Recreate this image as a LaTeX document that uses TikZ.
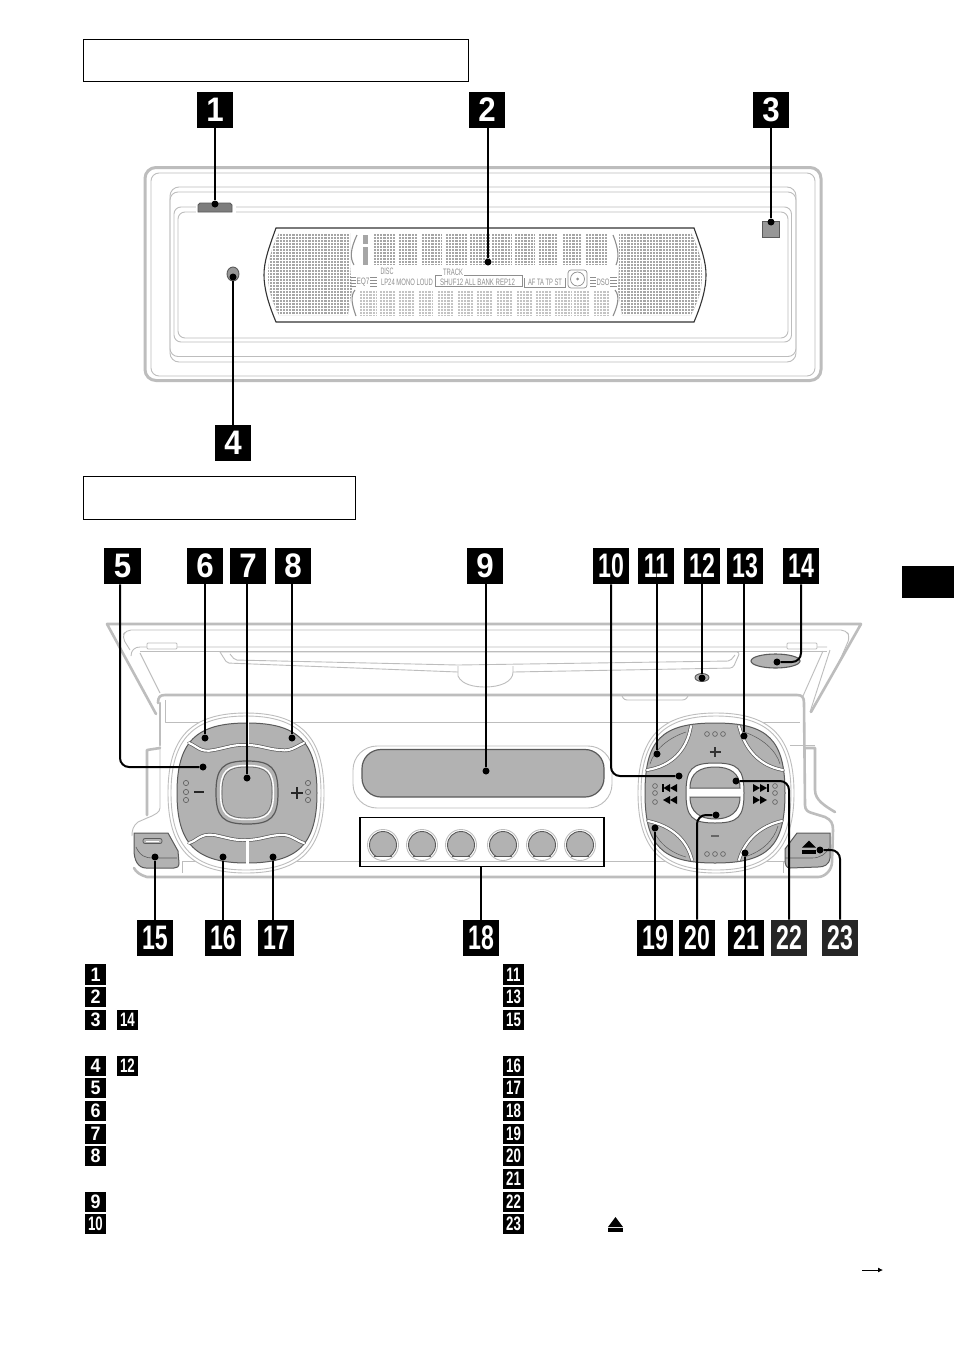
\documentclass[tikz,border=0pt]{standalone}
\usepackage{fontspec}
\usepackage{graphicx}
\setmainfont{Liberation Sans}
\usetikzlibrary{arrows.meta,shapes.geometric}
\definecolor{devfill}{HTML}{B2B2B2}
\definecolor{devline}{HTML}{BDBDBD}
\definecolor{devdark}{HTML}{5A5A5A}
\definecolor{lcdfill}{HTML}{A6A6A6}
\definecolor{lcdlow}{HTML}{C4C4C4}
\definecolor{lcdtext}{HTML}{8E8E8E}
\newcommand{\one}[1]{\scalebox{.92}[1]{#1}}
\newcommand{\two}[1]{\scalebox{.68}[1]{#1}}
\tikzset{
  badge/.style={fill=black,text=white,minimum size=36.5pt,inner sep=0pt,font=\bfseries\fontsize{34}{34}\selectfont},
  smallbadge/.style={fill=black,text=white,minimum size=20.5pt,inner sep=0pt,font=\bfseries\fontsize{19.5}{19.5}\selectfont},
  titlebox/.style={draw=black,line width=.9pt,inner sep=0pt},
  lead/.style={draw=black,line width=2pt,rounded corners=9pt},
  dotn/.style={circle,fill=black,inner sep=0pt,minimum size=7pt},
  devthick/.style={draw=devline,line width=2.6pt,line join=round,line cap=round},
  devthin/.style={draw=devline,line width=.9pt,line join=round},
  btn/.style={fill=devfill,draw=devdark,line width=1pt},
  cut/.style={draw=white,line width=2.2pt,line cap=round},
  cutedge/.style={draw=devdark,line width=3.6pt,line cap=round},
  lcdlab/.style={inner sep=0pt,text=lcdtext,font=\fontsize{7}{7}\selectfont},
  lcdline/.style={draw=lcdtext,line width=.7pt},
  smallring/.style={draw=devdark,line width=.6pt,fill=devfill}
}
\newcommand{\sqshape}[6]{%
  \pgfmathsetmacro\sqL{#1-#3}\pgfmathsetmacro\sqR{#1+#3}%
  \pgfmathsetmacro\sqT{#2-#4}\pgfmathsetmacro\sqB{#2+#4}%
  \pgfmathsetmacro\sqXl{#1-#5*#3}\pgfmathsetmacro\sqXr{#1+#5*#3}%
  \pgfmathsetmacro\sqYt{#2-#5*#4}\pgfmathsetmacro\sqYb{#2+#5*#4}%
  \path[#6] (#1,\sqT) .. controls (\sqXr,\sqT) and (\sqR,\sqYt) .. (\sqR,#2)
    .. controls (\sqR,\sqYb) and (\sqXr,\sqB) .. (#1,\sqB)
    .. controls (\sqXl,\sqB) and (\sqL,\sqYb) .. (\sqL,#2)
    .. controls (\sqL,\sqYt) and (\sqXl,\sqT) .. (#1,\sqT) -- cycle;}
\newcommand{\dotgrid}[5]{%
  \fill[#5] (#1,#2) rectangle (#3,#4);
  \pgfmathsetmacro\gridXn{#1+3.2}\pgfmathsetmacro\gridYn{#2+3}%
  \foreach \gi in {#1,\gridXn,...,#3} {\draw[white,line width=.6pt] (\gi,#2) -- (\gi,#4);}
  \foreach \gj in {#2,\gridYn,...,#4} {\draw[white,line width=.6pt] (#1,\gj) -- (#3,\gj);}
}
\newcommand{\fitw}[2]{\resizebox{#1pt}{6.5pt}{#2}}
\begin{document}
\begin{tikzpicture}[x=1pt,y=-1pt]
\useasboundingbox (0,0) rectangle (954,1352);
\fill[white] (0,0) rectangle (954,1352);

% title boxes and page tab
\node[titlebox,minimum width=385pt,minimum height=42pt] (t1) at (275.5,60) {};
\node[titlebox,minimum width=272pt,minimum height=43pt] (t2) at (219,497.5) {};
\node[fill=black,minimum width=52pt,minimum height=32pt,inner sep=0pt] (pagetab) at (928,582) {};

% ===== front panel =====
\draw[draw=devline,line width=3pt,rounded corners=11pt] (145,167.5) rectangle (821,380.5);
\draw[devthin,rounded corners=8pt] (151,173) rectangle (815,376);
\draw[devthin,rounded corners=9pt] (170,187) rectangle (796,362);
\draw[devthin,rounded corners=8pt] (170,192) rectangle (796,356.5);
\draw[devthin,rounded corners=7pt] (174,207) rectangle (791.5,342);
\draw[devthin,rounded corners=7pt] (178,212) rectangle (788,338);
\fill[white] (196,200) rectangle (236,214);
\draw[devdark,line width=.8pt,fill=devfill!70!black] (198,212) -- (198,205) -- (200,203) -- (230,203) -- (232,205) -- (232,212) -- cycle;
\node[draw=devdark,fill=devfill!85!black,line width=.9pt,minimum width=17pt,minimum height=16pt,inner sep=0pt] (sq3) at (771,229) {};
\node[ellipse,draw=devdark,fill=devfill!85!black,line width=.9pt,minimum width=12pt,minimum height=14pt,inner sep=0pt] (led4) at (233,274) {};

% display
\path[fill=white,draw=black!80,line width=1.1pt] (276,228) -- (694,228) .. controls (702,250) and (706,262) .. (706,275) .. controls (706,288) and (702,303) .. (694,322) -- (276,322) .. controls (268,303) and (264,288) .. (264,275) .. controls (264,262) and (268,250) .. (276,228) -- cycle;
\begin{scope}
\clip (279,233) -- (350,233) -- (350,265) -- (352,290) -- (348,315) -- (279,315) .. controls (271,300) and (268,288) .. (268,275) .. controls (268,262) and (271,248) .. (279,233) -- cycle;
\dotgrid{266}{233}{353}{316}{lcdfill}
\end{scope}
\begin{scope}
\clip (619,233) -- (691,233) .. controls (699,248) and (702,262) .. (702,275) .. controls (702,288) and (699,300) .. (691,315) -- (622,315) -- (618,290) -- (619,265) -- cycle;
\dotgrid{617}{233}{704}{316}{lcdfill}
\end{scope}
\foreach \a/\b in {373/395,398/418,421/442,445/467,469/490,491/512,514/535,538/558,562/582,585/607} {\dotgrid{\a}{233}{\b}{265}{lcdfill}}
\foreach \a/\b in {359/377,379/395,398/414,418/433,437/453,457/473,476/493,496/512,516/532,535/552,554/572,573/590,593/610} {\dotgrid{\a}{290}{\b}{316}{lcdlow}}
\fill[lcdfill] (363,235) rectangle (368,244);
\fill[lcdfill] (363,247) rectangle (368,265);
\draw[lcdtext,line width=1.1pt] (357,235) .. controls (350,250) and (350,258) .. (354,265);
\draw[lcdtext,line width=1.1pt] (355,290) .. controls (350,296) and (352,305) .. (356,316);
\draw[lcdtext,line width=1.1pt] (613,235) .. controls (619,250) and (619,258) .. (616,265);
\draw[lcdtext,line width=1.1pt] (615,290) .. controls (620,296) and (618,305) .. (613,316);
\node[lcdlab] (lcdeq) at (363,282) {\fitw{13}{EQ7}};
\node[lcdlab] (lcddisc) at (387,271.5) {\fitw{13}{DISC}};
\node[lcdlab] (lcdlp) at (407,282) {\fitw{52}{LP24 MONO LOUD}};
\node[lcdlab] (lcdtrack) at (453,272) {\fitw{20}{TRACK}};
\node[lcdlab] (lcdshuf) at (477.5,282) {\fitw{75}{SHUF12 ALL BANK REP12}};
\node[lcdlab] (lcdaf) at (545,282) {\fitw{34}{AF TA TP ST}};
\node[lcdlab] (lcddso) at (603,282) {\fitw{13}{DSO}};
\draw[lcdline] (442,275.5) -- (435,275.5) -- (435,286.5) -- (522,286.5) -- (522,275.5) -- (464,275.5);
\draw[lcdline] (524,278) -- (524,287) -- (565,287) -- (565,278);
\draw[lcdline,rounded corners=3pt] (568,270) rectangle (587,288);
\node[circle,draw=lcdtext,line width=.7pt,minimum size=14pt,inner sep=0pt] (lcddisk) at (577.5,279) {};
\node[circle,fill=lcdtext,minimum size=3pt,inner sep=0pt] (lcdhub) at (577.5,279) {};
\foreach \yy in {277,280,283,286} {
  \draw[lcdtext,line width=.6pt] (350,\yy) -- (356,\yy);
  \draw[lcdtext,line width=.6pt] (370,\yy) -- (377,\yy);
  \draw[lcdtext,line width=.6pt] (590,\yy) -- (596,\yy);
  \draw[lcdtext,line width=.6pt] (610,\yy) -- (617,\yy);
}

% ===== open unit =====
\draw[devthick] (156,714) -- (107,624) -- (861,624) -- (811,712);
\draw[devthin,rounded corners=5pt] (130,650) -- (122,637) -- (126,630) -- (846,630) -- (850,637) -- (840,660);
\draw[devthin] (140,653) -- (160,693);
\draw[devthin] (131,656) .. controls (131,650) and (135,647) .. (140,647) -- (827,647);
\draw[devthin] (140,651) -- (827,651);
\draw[devthin] (830,650) -- (810,712);
\draw[devthin] (823,651) -- (803,696);
\node[devthin,draw,fill=white,minimum width=30pt,minimum height=6pt,inner sep=0pt,rounded corners=1pt] (tabl) at (162,646) {};
\node[devthin,draw,fill=white,minimum width=30pt,minimum height=6pt,inner sep=0pt,rounded corners=1pt] (tabr) at (802,646) {};
% disc slot
\draw[devthin,rounded corners=3pt] (220,652) -- (740,652) -- (733,668) -- (513,672);
\draw[devthin,rounded corners=2pt] (230,654) -- (235,660) -- (458,665) -- (730,661) -- (735,655);
\draw[devthin,rounded corners=2pt] (220,652) -- (227,663) -- (458,672);
\draw[devthin] (458,666) -- (458,676) .. controls (462,685) and (475,687) .. (485,687) .. controls (500,687) and (513,682) .. (513,672) -- (513,666);
% body outline
\draw[devthick] (158,703) .. controls (158,697) and (160,695) .. (165,695) -- (797,695) .. controls (802,695) and (804,697) .. (804,703) -- (805,805) .. controls (805,810) and (808,812) .. (812,813) -- (825,817) .. controls (831,820) and (833,823) .. (833,830) -- (832,862) .. controls (832,870) and (825,877) .. (818,877) -- (147,877) .. controls (140,875) and (136,872) .. (134,868);
\draw[devthick] (160,703) -- (160,745);
\draw[devthick] (147,815) -- (147,750) -- (160,748);
\draw[devthick] (805,748) -- (815,748) -- (815,790) .. controls (815,800) and (825,806) .. (835,812);
\draw[devthin] (160,745) -- (160,808) .. controls (160,812) and (155,815) .. (147,818) -- (138,822) .. controls (133,826) and (132,830) .. (132,836);
\draw[devthin] (165,700) -- (165,722) -- (800,722);
\draw[devthin] (182,861) -- (785,861);
\draw[devthin] (182,861) -- (182,873);
\draw[devthin] (783,861) -- (783,873);
\draw[devthin] (622,696) .. controls (624,700) and (625,700) .. (630,700) -- (680,700) .. controls (684,700) and (686,700) .. (688,696);
\draw[devthin] (815,745) -- (790,745);

% left cluster
\sqshape{246}{793}{78}{80}{.70}{draw=devline,line width=.9pt,fill=white}
\sqshape{246}{793}{75}{77}{.70}{draw=devline,line width=.9pt,fill=white}
\sqshape{247}{793}{70}{70}{.73}{btn}
\draw[cutedge] (189,743) .. controls (197,746) and (200,753) .. (214,750) .. controls (225,748) and (235,744) .. (247,745) .. controls (260,745) and (270,750) .. (281,750) .. controls (290,752) and (297,746) .. (304,743);
\draw[cut] (189,743) .. controls (197,746) and (200,753) .. (214,750) .. controls (225,748) and (235,744) .. (247,745) .. controls (260,745) and (270,750) .. (281,750) .. controls (290,752) and (297,746) .. (304,743);
\draw[cutedge] (189,843) .. controls (197,841) and (200,833) .. (214,835) .. controls (225,837) and (235,841) .. (247,840) .. controls (260,840) and (270,835) .. (281,835) .. controls (290,834) and (297,841) .. (304,843);
\draw[cut] (189,843) .. controls (197,841) and (200,833) .. (214,835) .. controls (225,837) and (235,841) .. (247,840) .. controls (260,840) and (270,835) .. (281,835) .. controls (290,834) and (297,841) .. (304,843);
\draw[white,line width=2.2pt] (247.5,722) -- (247.5,745);
\draw[white,line width=2.2pt] (247.5,840) -- (247.5,865);
\sqshape{247}{792.5}{31}{31.5}{.78}{btn,line width=1.2pt}
\sqshape{247}{792.5}{26.5}{27}{.78}{draw=white,line width=1.4pt}
\sqshape{247}{792.5}{25}{25.5}{.78}{draw=devdark,line width=.5pt}
\foreach \yy in {783,792,800} {
  \draw[smallring] (186,\yy) circle[radius=2.6];
  \draw[smallring] (308,\yy) circle[radius=2.6];
}
\draw[black!85,line width=2.8pt] (194,792) -- (204,792);
\draw[black!85,line width=2.8pt] (291,793) -- (303,793) (297,787) -- (297,799);

% centre display
\draw[devthin,rounded corners=24pt] (353,746) rectangle (612,808);
\draw[btn,line width=1.2pt,rounded corners=19pt] (362,749.5) rectangle (604,797);

% preset buttons
\foreach \cx in {383,422,461,503,542,580} {
  \draw[devthin] (\cx,845) circle[radius=15.5];
  \begin{scope}
  \clip (\cx-16,828) rectangle (\cx+16,856);
  \draw[btn,line width=.9pt] (\cx,845) circle[radius=13.5];
  \end{scope}
  \draw[devdark,line width=.9pt] (\cx-9,856) -- (\cx+9,856);
}
\node[draw=black,line width=1.8pt,minimum width=244pt,minimum height=49pt,inner sep=0pt] (box18) at (482,842) {};

% button 15
\draw[btn] (134,833) -- (168,833) -- (178,851) -- (179,863) .. controls (179,867) and (177,868) .. (174,868) -- (146,868) .. controls (138,868) and (134,860) .. (134,850) -- cycle;
\draw[devdark,line width=.6pt] (136,847) .. controls (140,856) and (146,858) .. (152,858) -- (177,858);
\draw[devdark,line width=.8pt,rounded corners=2pt] (143,838.5) rectangle (162,843.5);
\draw[white,line width=1pt] (146,841) -- (159,841);

% button 14 and aux 12
\node[ellipse,btn,line width=1.1pt,minimum width=49pt,minimum height=14pt,inner sep=0pt] (btn14) at (775.5,661) {};
\node[ellipse,draw=devdark,line width=.9pt,fill=devfill,minimum width=14pt,minimum height=8pt,inner sep=0pt] (aux12) at (702,677.5) {};

% right cluster
\sqshape{716}{793}{78}{80}{.70}{draw=devline,line width=.9pt,fill=white}
\sqshape{716}{793}{75}{77}{.70}{draw=devline,line width=.9pt,fill=white}
\sqshape{715}{793}{70}{70}{.76}{btn}
\draw[cutedge] (691,726) .. controls (687,750) and (672,766) .. (647,770);
\draw[cut] (691,726) .. controls (687,750) and (672,766) .. (647,770);
\draw[cutedge] (739,726) .. controls (745,750) and (760,766) .. (783,770);
\draw[cut] (739,726) .. controls (745,750) and (760,766) .. (783,770);
\draw[cutedge] (648,821) .. controls (672,826) and (687,840) .. (692,860);
\draw[cut] (648,821) .. controls (672,826) and (687,840) .. (692,860);
\draw[cutedge] (782,821) .. controls (760,826) and (745,840) .. (739,860);
\draw[cut] (782,821) .. controls (760,826) and (745,840) .. (739,860);
\draw[devdark,line width=.5pt] (686,732) .. controls (668,738) and (654,750) .. (650,764);
\draw[devdark,line width=.5pt] (744,732) .. controls (762,738) and (776,750) .. (780,764);
\draw[devdark,line width=.5pt] (652,826) .. controls (656,840) and (668,852) .. (686,857);
\draw[devdark,line width=.5pt] (778,826) .. controls (774,840) and (762,852) .. (744,857);
\sqshape{715}{793}{29}{30}{.8}{fill=white,draw=devdark,line width=1pt}
\path[btn] (690,788) .. controls (690,773) and (700,767) .. (715,767) .. controls (730,767) and (740,773) .. (740,788) -- cycle;
\path[btn] (690,797) .. controls (690,812) and (700,819) .. (715,819) .. controls (730,819) and (740,812) .. (740,797) -- cycle;
\foreach \xx in {707,715,723} {
  \draw[smallring] (\xx,734) circle[radius=2.4];
  \draw[smallring] (\xx,854) circle[radius=2.4];
}
\foreach \yy in {786,793,802} {
  \draw[smallring] (655,\yy) circle[radius=2.4];
  \draw[smallring] (775,\yy) circle[radius=2.4];
}
\draw[black!80,line width=2pt] (709.5,752) -- (720.5,752) (715,747) -- (715,757);
\draw[black!60,line width=1.4pt] (711,836) -- (719,836);
% transport symbols
\fill[black] (662,784) rectangle (663.5,792);
\fill[black] (663.5,788) -- (670,784) -- (670,792) -- cycle;
\fill[black] (670,788) -- (677,784) -- (677,792) -- cycle;
\fill[black] (663,800) -- (670,796) -- (670,804) -- cycle;
\fill[black] (670,800) -- (677,796) -- (677,804) -- cycle;
\fill[black] (753,784) -- (760,788) -- (753,792) -- cycle;
\fill[black] (760,784) -- (767,788) -- (760,792) -- cycle;
\fill[black] (767,784) rectangle (768.5,792);
\fill[black] (753,796) -- (760,800) -- (753,804) -- cycle;
\fill[black] (760,796) -- (767,800) -- (760,804) -- cycle;

% eject button
\draw[btn] (797,833) -- (830,833) -- (830,858) .. controls (829,865) and (824,867) .. (818,867) -- (790,868) .. controls (786,868) and (785,864) .. (785,860) -- (785,849) -- cycle;
\draw[devdark,line width=.6pt] (785,858) -- (812,858) .. controls (820,858) and (826,854) .. (829,848);
\fill[black] (802,847.5) -- (809,840.5) -- (816,847.5) -- cycle;
\fill[black] (802,849.5) rectangle (816,853.5);

% ===== end points =====
\node[dotn] (d1) at (215,204) {};
\node[dotn] (d2) at (488,262) {};
\node[dotn] (d3) at (771,222) {};
\node[dotn] (d4) at (233,277) {};
\node[dotn] (d5) at (203,767) {};
\node[dotn] (d6) at (205,738) {};
\node[dotn] (d7) at (247,778) {};
\node[dotn] (d8) at (292,738) {};
\node[dotn] (d9) at (486,771) {};
\node[dotn] (d10) at (679,776) {};
\node[dotn] (d11) at (657,754) {};
\node[dotn] (d12) at (702,678) {};
\node[dotn] (d13) at (744,736) {};
\node[dotn] (d14) at (777,662) {};
\node[dotn] (d15) at (155,857) {};
\node[dotn] (d16) at (223,857) {};
\node[dotn] (d17) at (273,857) {};
\node[dotn] (d19) at (655,828) {};
\node[dotn] (d20) at (716,815) {};
\node[dotn] (d21) at (745,853) {};
\node[dotn] (d22) at (736,781) {};
\node[dotn] (d23) at (820,850) {};
\coordinate (c5) at (120,600);

% ===== big badges =====
\node[badge] (b1) at (215,110) {\one{1}};
\node[badge] (b2) at (487,110) {\one{2}};
\node[badge] (b3) at (771,110) {\one{3}};
\node[badge] (b4) at (233,443) {\one{4}};
\node[badge] (b5) at (122.5,566) {\one{5}};
\node[badge] (b6) at (205,566) {\one{6}};
\node[badge] (b7) at (248,566) {\one{7}};
\node[badge] (b8) at (293,566) {\one{8}};
\node[badge] (b9) at (485,566) {\one{9}};
\node[badge] (b10) at (611,566) {\two{10}};
\node[badge] (b11) at (656,566) {\two{11}};
\node[badge] (b12) at (702,566) {\two{12}};
\node[badge] (b13) at (745,566) {\two{13}};
\node[badge] (b14) at (801,566) {\two{14}};
\node[badge] (b15) at (155,938) {\two{15}};
\node[badge] (b16) at (223,938) {\two{16}};
\node[badge] (b17) at (276,938) {\two{17}};
\node[badge] (b18) at (481,938) {\two{18}};
\node[badge] (b19) at (655,938) {\two{19}};
\node[badge] (b20) at (697,938) {\two{20}};
\node[badge] (b21) at (746,938) {\two{21}};
\node[badge,fill=black!85] (b22) at (789,938) {\two{22}};
\node[badge,fill=black!85] (b23) at (840,938) {\two{23}};

% ===== connectors =====
\draw[lead] (b1.south -| d1) -- (d1);
\draw[lead] (b2.south -| d2) -- (d2);
\draw[lead] (b3.south -| d3) -- (d3);
\draw[lead] (b4.north -| d4) -- (d4);
\draw[lead] (b5.south -| c5) -- (c5 |- d5) -- (d5);
\draw[lead] (b6.south -| d6) -- (d6);
\draw[lead] (b7.south -| d7) -- (d7);
\draw[lead] (b8.south -| d8) -- (d8);
\draw[lead] (b9.south -| d9) -- (d9);
\draw[lead] (b10.south) -- (b10.south |- d10) -- (d10);
\draw[lead] (b11.south -| d11) -- (d11);
\draw[lead] (b12.south -| d12) -- (d12);
\draw[lead] (b13.south -| d13) -- (d13);
\draw[lead] (b14.south) -- (b14.south |- d14) -- (d14);
\draw[lead] (b15.north -| d15) -- (d15);
\draw[lead] (b16.north -| d16) -- (d16);
\draw[lead] (b17.north -| d17) -- (d17);
\draw[lead] (b18.north) -- (b18.north |- box18.south);
\draw[lead] (b19.north -| d19) -- (d19);
\draw[lead] (b20.north) -- (b20.north |- d20) -- (d20);
\draw[lead] (b21.north -| d21) -- (d21);
\draw[lead] (b22.north) -- (b22.north |- d22) -- (d22);
\draw[lead] (b23.north) -- (b23.north |- d23) -- (d23);

% ===== legend badges =====
\foreach \nm/\lab/\yy in {l1/1/974.5,l2/2/997,l3/3/1020,l4/4/1066,l5/5/1088,l6/6/1111,l7/7/1134,l8/8/1156,l9/9/1202}
  {\node[smallbadge] (\nm) at (95.5,\yy) {\one{\lab}};}
\node[smallbadge] (l10) at (95.5,1224) {\two{10}};
\node[smallbadge] (l14) at (127.5,1020) {\two{14}};
\node[smallbadge] (l12) at (127.5,1066) {\two{12}};
\foreach \nm/\lab/\yy in {r11/11/974.5,r13/13/997,r15/15/1020,r16/16/1066,r17/17/1088,r18/18/1111,r19/19/1134,r20/20/1156,r21/21/1179,r22/22/1202,r23/23/1224}
  {\node[smallbadge] (\nm) at (513.5,\yy) {\two{\lab}};}

% legend eject symbol and turn-page arrow
\fill[black] (608,1227) -- (615.5,1217) -- (623,1227) -- cycle;
\fill[black] (608,1228) rectangle (623,1232);
\coordinate (arrowa) at (862,1270);
\coordinate (arrowb) at (883,1270);
\draw[black,line width=.8pt,-{Latex[length=5pt,width=5pt]}] (arrowa) -- (arrowb);
\end{tikzpicture}
\end{document}
